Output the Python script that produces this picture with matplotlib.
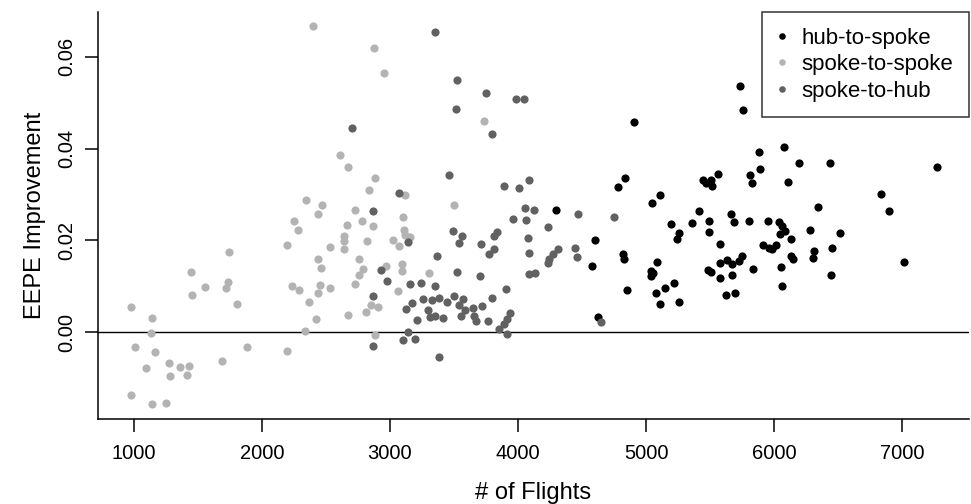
import matplotlib
matplotlib.use("Agg")
import matplotlib.pyplot as plt

# values
hub_spoke_x = [4297, 4579, 5733, 5759, 4905, 5879, 5891, 5811, 5824, 5564,
               5442, 5507, 5471, 5512, 4833, 4783, 5106, 5048, 5413, 5660,
               5684, 5805, 5949, 5491, 5361, 5197, 5493, 5259, 5241, 4605,
               5579, 5915, 5959, 4820, 4827, 5083, 5036, 5051, 5036, 5751,
               5723, 5634, 5577, 5668, 5481, 5509, 5579, 5673, 5837, 5220,
               5150, 5077, 4853, 5111, 5259, 5626, 5694, 4627, 6074, 6196,
               6438, 7273, 6110, 6834, 6898, 6342, 6037, 6058, 6084, 6045,
               6277, 6513, 6133, 5980, 6014, 6133, 6147, 6313, 6305, 6449,
               6053, 6441, 7013, 6058]
hub_spoke_y = [0.0266, 0.0144, 0.0537, 0.0483, 0.0457, 0.0393, 0.0355, 0.0342, 0.0324, 0.0345,
               0.0332, 0.0332, 0.0324, 0.0319, 0.0337, 0.0316, 0.0299, 0.0282, 0.0265, 0.0257,
               0.0240, 0.0243, 0.0243, 0.0243, 0.0238, 0.0235, 0.0218, 0.0216, 0.0203, 0.0202,
               0.0192, 0.0189, 0.0183, 0.0170, 0.0159, 0.0153, 0.0134, 0.0129, 0.0123, 0.0167,
               0.0155, 0.0158, 0.0150, 0.0148, 0.0136, 0.0131, 0.0118, 0.0125, 0.0137, 0.0107,
               0.0096, 0.0086, 0.0091, 0.0061, 0.0065, 0.0082, 0.0085, 0.0033, 0.0403, 0.0369,
               0.0369, 0.0360, 0.0328, 0.0302, 0.0264, 0.0273, 0.0241, 0.0231, 0.0221, 0.0214,
               0.0223, 0.0216, 0.0204, 0.0181, 0.0189, 0.0167, 0.0159, 0.0176, 0.0161, 0.0184,
               0.0142, 0.0125, 0.0152, 0.0101]

spoke_spoke_x = [977, 1143, 1135, 1008, 1169, 1098, 1273, 1364, 1434, 1286,
                 1416, 977, 1143, 1250, 1450, 1455, 1557, 1742, 1734, 1721,
                 1806, 1692, 1887, 2193, 2197, 2255, 2279, 2343, 2472, 2439,
                 2233, 2288, 2366, 2335, 2421, 2439, 2460, 2456, 2441, 2535,
                 2536, 2397, 2608, 2674, 2644, 2644, 2644, 2667, 2728, 2780,
                 2757, 2788, 2757, 2726, 2671, 2878, 2956, 2884, 2839, 2866,
                 2824, 2850, 2911, 2811, 2880, 3115, 3101, 3114, 3118, 3158,
                 3022, 3075, 3094, 3098, 2968, 3065, 3737, 3503, 3308]
spoke_spoke_y = [0.0056, 0.0031, -0.0002, -0.0032, -0.0042, -0.0078, -0.0068, -0.0076, -0.0073, -0.0095,
                 -0.0093, -0.0137, -0.0157, -0.0154, 0.0131, 0.0081, 0.0099, 0.0174, 0.0110, 0.0096,
                 0.0061, -0.0063, -0.0032, -0.0041, 0.0189, 0.0242, 0.0222, 0.0289, 0.0277, 0.0258,
                 0.0101, 0.0091, 0.0065, 0.0003, 0.0029, 0.0160, 0.0141, 0.0103, 0.0086, 0.0186,
                 0.0097, 0.0666, 0.0385, 0.0359, 0.0210, 0.0199, 0.0182, 0.0234, 0.0266, 0.0242,
                 0.0160, 0.0137, 0.0125, 0.0105, 0.0038, 0.0618, 0.0565, 0.0336, 0.0310, 0.0232,
                 0.0199, 0.0059, 0.0054, 0.0044, -0.0007, 0.0299, 0.0252, 0.0223, 0.0212, 0.0207,
                 0.0201, 0.0188, 0.0149, 0.0134, 0.0144, 0.0090, 0.0461, 0.0278, 0.0130]

spoke_hub_x = [2704, 3071, 2872, 3143, 2929, 2976, 3157, 2872, 3174, 3123,
               3215, 3141, 3105, 3194, 2866, 3350, 3521, 3752, 3987, 4044,
               3516, 3795, 3461, 4088, 3893, 4010, 3370, 3495, 3560, 3537,
               3709, 3834, 3815, 3815, 3774, 3959, 4055, 4125, 4065, 4076,
               4086, 4232, 4468, 4312, 4271, 4242, 4236, 4446, 4458, 4083,
               4130, 3526, 3703, 3240, 3352, 3906, 3261, 3331, 3386, 3443,
               3503, 3573, 3542, 3589, 3553, 3651, 3717, 3656, 3674, 3766,
               3799, 3300, 3313, 3354, 3414, 3386, 3937, 3916, 3893, 3852,
               3914, 4747, 4646]
spoke_hub_y = [0.0445, 0.0303, 0.0263, 0.0196, 0.0135, 0.0112, 0.0105, 0.0080, 0.0063, 0.0050,
               0.0026, 0.0001, -0.0017, -0.0015, -0.0029, 0.0654, 0.0549, 0.0521, 0.0509, 0.0508,
               0.0486, 0.0432, 0.0342, 0.0331, 0.0318, 0.0314, 0.0166, 0.0221, 0.0210, 0.0195,
               0.0193, 0.0219, 0.0210, 0.0182, 0.0171, 0.0247, 0.0271, 0.0266, 0.0244, 0.0206,
               0.0173, 0.0229, 0.0257, 0.0181, 0.0170, 0.0160, 0.0150, 0.0184, 0.0163, 0.0127,
               0.0128, 0.0131, 0.0123, 0.0107, 0.0101, 0.0094, 0.0073, 0.0070, 0.0075, 0.0065,
               0.0079, 0.0072, 0.0059, 0.0049, 0.0036, 0.0052, 0.0058, 0.0036, 0.0025, 0.0025,
               0.0075, 0.0049, 0.0034, 0.0036, 0.0030, -0.0054, 0.0041, 0.0029, 0.0018, 0.0007,
               -0.0004, 0.0252, 0.0023]

x_ticks = [1000, 2000, 3000, 4000, 5000, 6000, 7000]
y_ticks = [0.00, 0.02, 0.04, 0.06]

plt.rcParams["font.family"] = ["Liberation Sans", "DejaVu Sans"]

fig = plt.figure(figsize=(9.71, 5.04), dpi=100)
ax = fig.add_axes([0.1009, 0.1687, 0.8970, 0.8075])

groups = [
    ("hub-to-spoke", hub_spoke_x, hub_spoke_y, "black"),
    ("spoke-to-spoke", spoke_spoke_x, spoke_spoke_y, "#b3b3b3"),
    ("spoke-to-hub", spoke_hub_x, spoke_hub_y, "#616161"),
]
for name, xs, ys, col in groups:
    ax.plot(xs, ys, ls="none", marker="o", ms=5.9, mfc=col, mec="none",
            label=name)

ax.axhline(0, color="black", lw=1.0, zorder=0)

ax.set_xlim(721, 7521)
ax.set_ylim(-0.01888, 0.06974)
ax.set_xticks(x_ticks)
ax.set_xticklabels([str(v) for v in x_ticks])
ax.set_yticks(y_ticks)
ax.set_yticklabels([f"{v:.2f}" for v in y_ticks], rotation=90, va="center")

for side in ("top", "right"):
    ax.spines[side].set_visible(False)
for side in ("left", "bottom"):
    ax.spines[side].set_linewidth(1.1)

ax.tick_params(axis="both", direction="out", length=9.4, width=1.1,
               labelsize=14.5, color="black")
ax.tick_params(axis="x", pad=8.5)
ax.tick_params(axis="y", pad=6)

ax.set_xlabel("# of Flights", fontsize=17, labelpad=14)
ax.set_ylabel("EEPE Improvement", fontsize=17, labelpad=8)

leg = ax.legend(loc="upper right", bbox_to_anchor=(1.0, 1.0), borderaxespad=0,
                fontsize=16, frameon=True, fancybox=False, edgecolor="black",
                borderpad=0.7, labelspacing=0.25, handlelength=0.4,
                handletextpad=0.7, markerscale=0.8, numpoints=1)
leg.get_frame().set_linewidth(1.1)

fig.savefig("out.png", dpi=100)
